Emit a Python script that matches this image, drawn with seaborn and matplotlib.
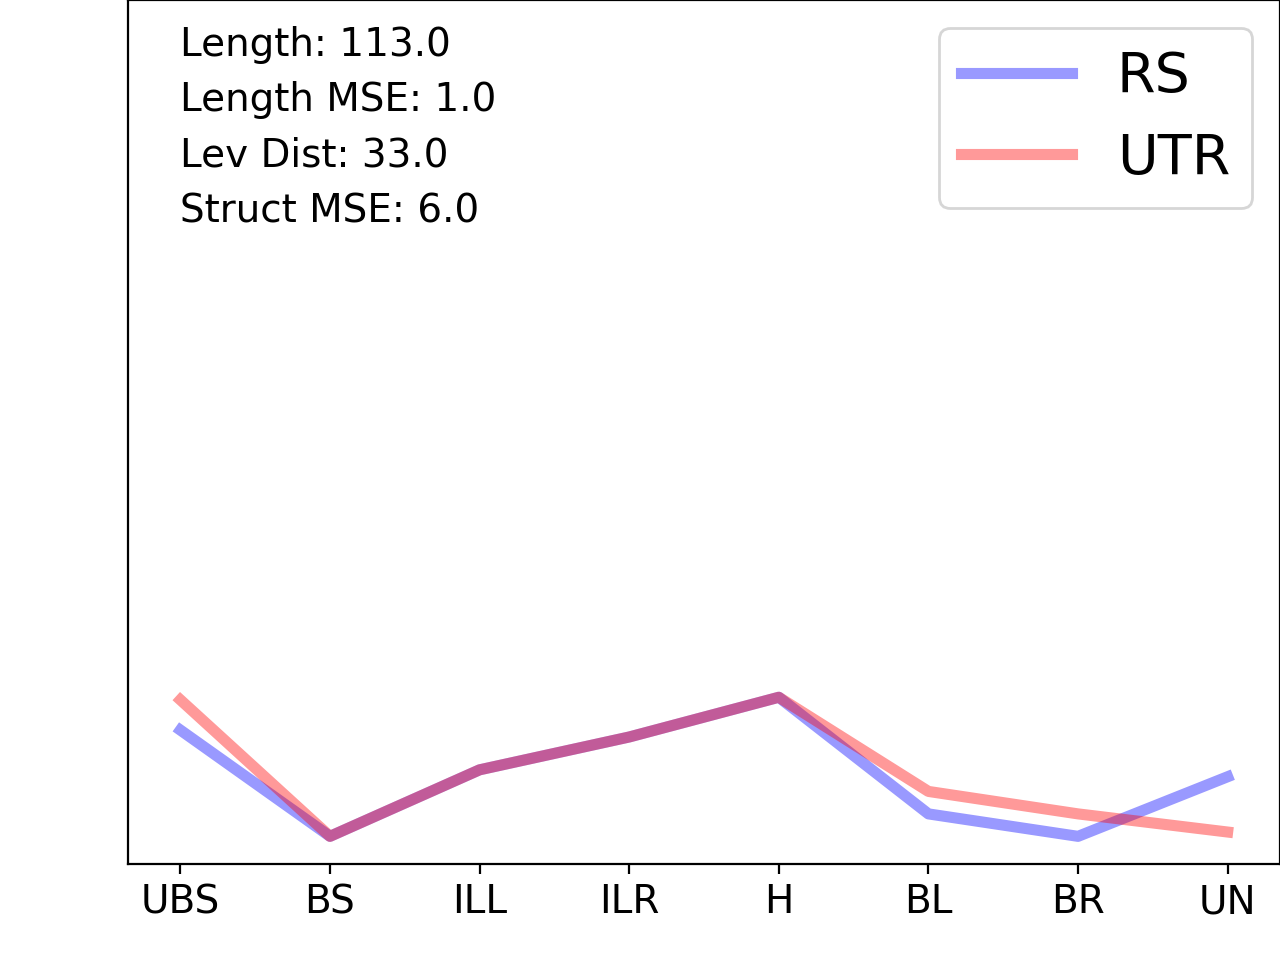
import pandas as pd
import matplotlib
matplotlib.use("Agg")
import matplotlib.pyplot as plt
import matplotlib.transforms as mtransforms
import seaborn as sns

# structure element categories
categories = ["UBS", "BS", "ILL", "ILR", "H", "BL", "BR", "UN"]

# fraction per element
rs_values = [0.155, 0.032, 0.109, 0.147, 0.193, 0.058, 0.032, 0.101]
utr_values = [0.190, 0.032, 0.109, 0.147, 0.193, 0.084, 0.058, 0.037]

stats_lines = ["Length: 113.0", "Length MSE: 1.0", "Lev Dist: 33.0", "Struct MSE: 6.0"]

df_rs = pd.DataFrame({"element": categories, "value": rs_values})
df_utr = pd.DataFrame({"element": categories, "value": utr_values})

fig = plt.figure(figsize=(6.4, 4.8), dpi=200)
ax = fig.add_axes([0.1, 0.1, 0.9, 0.9])

sns.lineplot(data=df_rs, x="element", y="value", color="blue", alpha=0.4,
             linewidth=4, label="RS", ax=ax, sort=False)
sns.lineplot(data=df_utr, x="element", y="value", color="red", alpha=0.4,
             linewidth=4, label="UTR", ax=ax, sort=False)

ax.set_ylim(0, 1)
ax.set_yticks([])
ax.set_xlabel("")
ax.set_ylabel("")
ax.tick_params(axis="x", labelsize=14)

# stats block, left edge lined up with the first category
trans = mtransforms.blended_transform_factory(ax.transData, ax.transAxes)
ax.text(0, 0.97, "\n".join(stats_lines), transform=trans, fontsize=14,
        ha="left", va="top", linespacing=1.58)

ax.legend(loc="upper right", fontsize=20)

fig.savefig("out.png", dpi=200)
